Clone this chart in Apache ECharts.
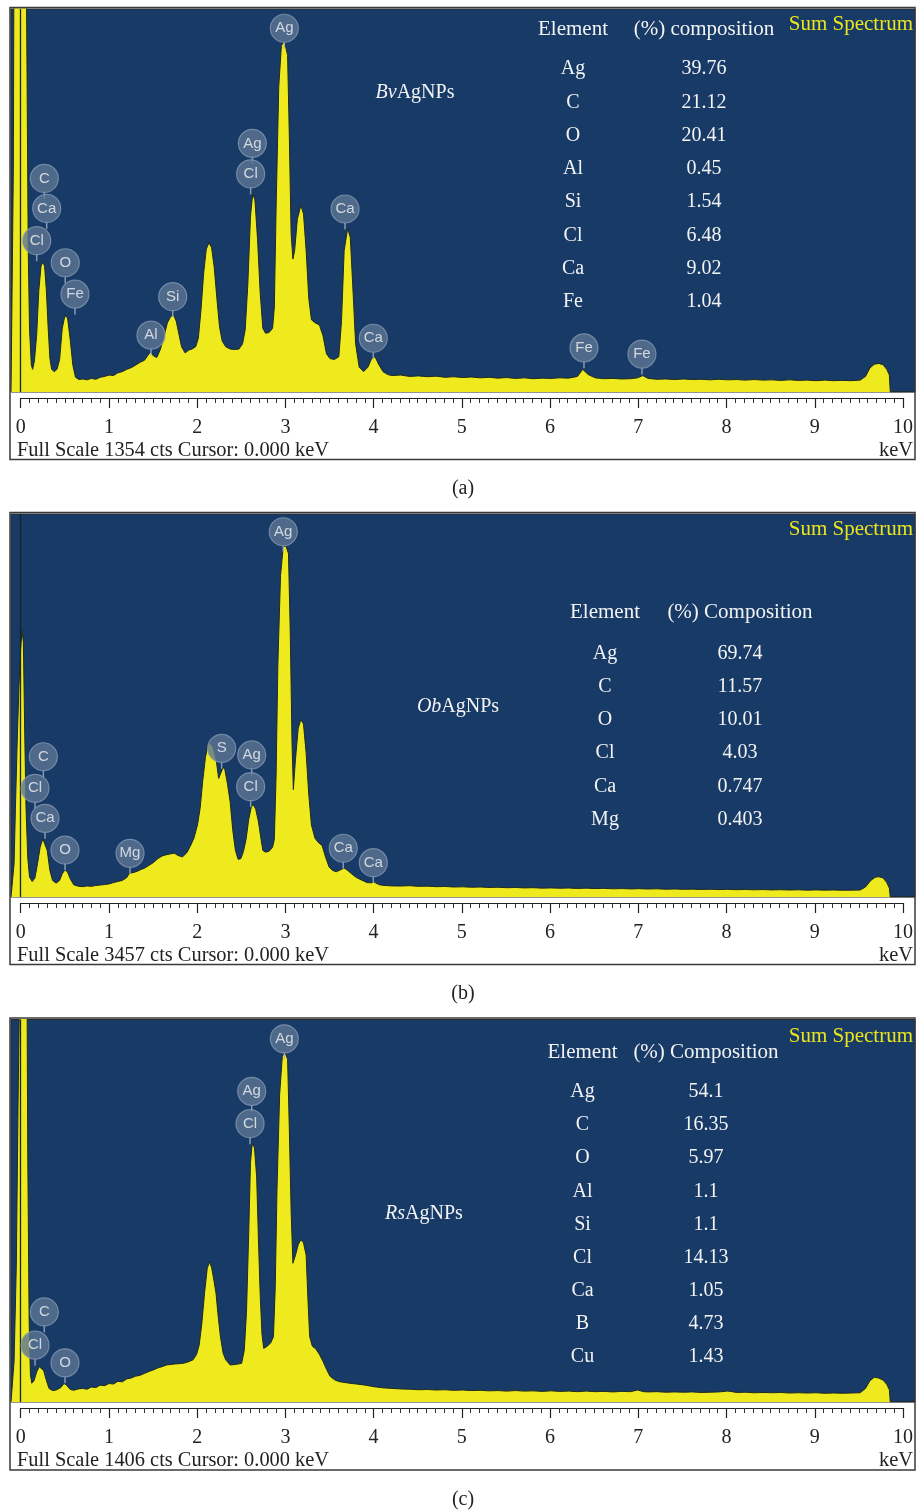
<!DOCTYPE html>
<html>
<head>
<meta charset="utf-8">
<script src="https://cdn.jsdelivr.net/npm/echarts@6/dist/echarts.min.js"></script>
<style>
html,body{margin:0;padding:0;background:#fff;}
#c{width:916px;height:1512px;}
</style>
</head>
<body>
<div id="c"></div>
<script>
// ---------- DATA ----------
const tickLabels = ['0','1','2','3','4','5','6','7','8','9','10'];
const fullScale = [1354, 3457, 1406];
const sampleNames = ['Bv', 'Ob', 'Rs'];
const captions = ['(a)', '(b)', '(c)'];
const headers = ['(%) composition', '(%) Composition', '(%) Composition'];

const elementsA = ['Ag','C','O','Al','Si','Cl','Ca','Fe'];
const compA = ['39.76','21.12','20.41','0.45','1.54','6.48','9.02','1.04'];
const elementsB = ['Ag','C','O','Cl','Ca','Mg'];
const compB = ['69.74','11.57','10.01','4.03','0.747','0.403'];
const elementsC = ['Ag','C','O','Al','Si','Cl','Ca','B','Cu'];
const compC = ['54.1','16.35','5.97','1.1','1.1','14.13','1.05','4.73','1.43'];

// peak labels: [element, keV, counts]
const peaksA = [['Ag',2.983,1286],['Ag',2.621,879],['Cl',2.602,771],['Ca',3.670,647],['Ca',3.990,190],
  ['C',0.267,755],['Ca',0.294,649],['Cl',0.181,535],['O',0.504,457],['Fe',0.614,346],
  ['Si',1.720,337],['Al',1.474,201],['Fe',6.374,156],['Fe',7.030,134]];
const peaksB = [['Ag',2.971,3297],['C',0.256,1266],['Cl',0.162,981],['Ca',0.275,710],['O',0.501,424],
  ['Mg',1.237,394],['S',2.274,1342],['Ag',2.614,1282],['Cl',2.602,996],['Ca',3.650,440],['Ca',3.990,310]];
const peaksC = [['Ag',2.983,1335],['Ag',2.614,1142],['Cl',2.595,1023],['C',0.267,331],['Cl',0.162,209],['O',0.501,144]];

// spectra: [keV, counts]
const specA = [[-0.11,0],[-0.09,0],[-0.083,800],[-0.077,1500],[0,1600],[0.063,1500],[0.072,1100],[0.085,500],[0.1,220],[0.12,95],[0.135,80],[0.155,110],[0.18,200],[0.205,360],[0.23,445],[0.25,460],[0.27,445],[0.29,360],[0.31,230],[0.33,120],[0.35,80],[0.38,72],[0.41,80],[0.44,115],[0.47,225],[0.50,270],[0.53,262],[0.56,185],[0.59,95],[0.62,52],[0.66,44],[0.70,46],[0.75,43],[0.80,48],[0.85,45],[0.90,52],[0.95,55],[1.0,60],[1.05,58],[1.1,68],[1.15,72],[1.2,80],[1.25,86],[1.3,95],[1.35,105],[1.4,112],[1.44,130],[1.47,142],[1.5,128],[1.54,122],[1.58,150],[1.62,195],[1.66,245],[1.70,268],[1.73,272],[1.76,250],[1.79,205],[1.82,160],[1.86,138],[1.9,148],[1.94,152],[1.98,160],[2.01,190],[2.04,290],[2.07,420],[2.1,505],[2.13,528],[2.16,510],[2.19,440],[2.22,330],[2.25,230],[2.28,180],[2.32,160],[2.37,152],[2.42,150],[2.47,152],[2.51,170],[2.54,220],[2.57,380],[2.6,620],[2.625,700],[2.65,680],[2.68,540],[2.71,350],[2.74,225],[2.77,208],[2.81,210],[2.85,225],[2.87,300],[2.89,650],[2.92,1080],[2.95,1225],[2.985,1240],[3.02,1190],[3.04,900],[3.06,560],[3.08,470],[3.1,500],[3.13,610],[3.17,660],[3.2,630],[3.23,500],[3.26,330],[3.29,255],[3.33,245],[3.38,237],[3.42,200],[3.46,135],[3.5,118],[3.55,115],[3.6,125],[3.63,250],[3.66,500],[3.7,579],[3.73,545],[3.76,360],[3.79,170],[3.83,88],[3.88,72],[3.93,88],[3.97,118],[4.01,125],[4.05,98],[4.1,72],[4.15,62],[4.2,58],[4.3,60],[4.4,55],[4.5,57],[4.6,54],[4.7,56],[4.8,52],[4.9,54],[5.0,51],[5.1,53],[5.2,50],[5.3,52],[5.4,49],[5.5,51],[5.6,48],[5.7,50],[5.8,47],[5.9,49],[6.0,48],[6.1,50],[6.2,49],[6.3,55],[6.36,80],[6.42,62],[6.5,50],[6.6,47],[6.7,48],[6.8,46],[6.9,47],[6.98,50],[7.04,58],[7.1,48],[7.2,45],[7.3,46],[7.4,44],[7.5,46],[7.6,44],[7.7,45],[7.8,43],[7.9,45],[8.0,43],[8.1,44],[8.2,42],[8.3,44],[8.4,42],[8.5,43],[8.6,41],[8.7,43],[8.8,41],[8.9,42],[9.0,40],[9.1,42],[9.2,40],[9.3,41],[9.4,40],[9.5,42],[9.56,55],[9.61,85],[9.66,98],[9.71,101],[9.76,96],[9.8,80],[9.83,60],[9.84,0],[10.12,0]];

const specB = [[-0.11,0],[-0.09,0],[-0.075,300],[-0.06,800],[-0.04,1400],[-0.02,1900],[0.0,2250],[0.015,2404],[0.03,2300],[0.045,1500],[0.06,800],[0.08,350],[0.1,180],[0.13,140],[0.16,170],[0.19,300],[0.22,450],[0.25,525],[0.27,530],[0.3,420],[0.33,240],[0.36,150],[0.4,125],[0.44,150],[0.47,210],[0.5,244],[0.53,225],[0.56,165],[0.6,110],[0.65,98],[0.7,93],[0.75,100],[0.8,96],[0.85,104],[0.9,108],[0.95,112],[1.0,118],[1.05,130],[1.1,140],[1.15,150],[1.2,175],[1.23,215],[1.27,220],[1.32,232],[1.36,248],[1.4,260],[1.45,285],[1.5,310],[1.55,345],[1.6,370],[1.65,382],[1.7,390],[1.74,394],[1.78,375],[1.83,362],[1.88,400],[1.92,460],[1.96,530],[2.0,650],[2.03,800],[2.06,1050],[2.09,1260],[2.12,1380],[2.15,1385],[2.18,1340],[2.21,1250],[2.24,1070],[2.26,1080],[2.29,1170],[2.31,1150],[2.34,1020],[2.37,860],[2.4,600],[2.43,420],[2.46,340],[2.49,345],[2.52,410],[2.55,520],[2.58,700],[2.61,815],[2.635,830],[2.66,790],[2.69,680],[2.72,520],[2.74,420],[2.77,405],[2.81,412],[2.85,450],[2.87,520],[2.89,1100],[2.91,2100],[2.94,2900],[2.97,3160],[3.0,3170],[3.03,3100],[3.05,2400],[3.07,1400],[3.085,970],[3.11,1250],[3.14,1520],[3.17,1604],[3.2,1560],[3.23,1300],[3.26,920],[3.29,650],[3.33,530],[3.37,490],[3.41,465],[3.45,360],[3.49,270],[3.53,240],[3.57,228],[3.62,245],[3.66,262],[3.7,240],[3.75,205],[3.8,175],[3.86,152],[3.92,130],[3.97,128],[4.0,135],[4.05,112],[4.1,105],[4.2,100],[4.3,99],[4.4,102],[4.5,96],[4.6,98],[4.7,93],[4.8,95],[4.9,90],[5.0,92],[5.1,88],[5.2,90],[5.3,86],[5.4,88],[5.5,84],[5.6,86],[5.7,82],[5.8,84],[5.9,80],[6.0,82],[6.1,79],[6.2,81],[6.3,77],[6.4,80],[6.5,76],[6.6,78],[6.7,74],[6.8,76],[6.9,73],[7.0,75],[7.1,72],[7.2,74],[7.3,70],[7.4,72],[7.5,69],[7.6,71],[7.7,68],[7.8,70],[7.9,67],[8.0,69],[8.1,66],[8.2,68],[8.3,65],[8.4,67],[8.5,64],[8.6,66],[8.7,63],[8.8,65],[8.9,62],[9.0,64],[9.1,62],[9.2,63],[9.3,61],[9.4,62],[9.5,63],[9.56,90],[9.62,150],[9.67,178],[9.71,183],[9.76,172],[9.8,130],[9.83,80],[9.84,0],[10.12,0]];

const specC = [[-0.11,0],[-0.09,0],[-0.075,150],[-0.05,500],[-0.03,1100],[-0.01,1600],[0.03,1600],[0.07,1600],[0.08,900],[0.095,300],[0.11,100],[0.125,69],[0.15,78],[0.18,110],[0.21,130],[0.23,132],[0.26,115],[0.29,80],[0.32,50],[0.36,42],[0.4,44],[0.45,52],[0.49,68],[0.52,62],[0.56,46],[0.6,43],[0.65,48],[0.7,50],[0.75,47],[0.8,55],[0.85,53],[0.9,62],[0.95,60],[1.0,68],[1.05,66],[1.1,76],[1.15,74],[1.2,85],[1.25,88],[1.3,95],[1.35,98],[1.4,105],[1.45,112],[1.5,118],[1.55,125],[1.6,130],[1.65,136],[1.7,138],[1.75,140],[1.8,141],[1.85,143],[1.9,148],[1.95,155],[1.99,175],[2.02,210],[2.05,290],[2.08,400],[2.11,490],[2.135,515],[2.16,495],[2.19,440],[2.21,400],[2.23,330],[2.26,240],[2.29,180],[2.32,155],[2.37,136],[2.43,138],[2.5,142],[2.53,190],[2.555,330],[2.58,620],[2.6,880],[2.62,950],[2.645,935],[2.67,827],[2.69,600],[2.71,395],[2.73,250],[2.75,197],[2.79,205],[2.83,218],[2.86,240],[2.88,420],[2.9,780],[2.93,1130],[2.96,1270],[2.99,1286],[3.02,1260],[3.04,1000],[3.06,700],[3.08,510],[3.11,540],[3.14,578],[3.17,597],[3.2,585],[3.23,540],[3.25,380],[3.27,240],[3.3,205],[3.34,195],[3.38,175],[3.42,150],[3.46,120],[3.5,95],[3.55,82],[3.6,75],[3.66,72],[3.72,69],[3.8,66],[3.9,62],[4.0,56],[4.1,52],[4.2,50],[4.3,48],[4.4,47],[4.5,45],[4.6,46],[4.7,44],[4.8,45],[4.9,43],[5.0,44],[5.1,42],[5.2,43],[5.3,41],[5.4,42],[5.5,40],[5.6,42],[5.7,40],[5.8,41],[5.9,39],[6.0,41],[6.1,39],[6.2,40],[6.3,38],[6.4,40],[6.5,38],[6.6,39],[6.7,37],[6.8,39],[6.9,38],[6.98,44],[7.05,38],[7.1,37],[7.2,38],[7.3,36],[7.4,37],[7.5,36],[7.6,37],[7.7,35],[7.8,36],[7.9,37],[8.0,40],[8.05,38],[8.1,35],[8.2,36],[8.3,34],[8.4,35],[8.5,34],[8.6,35],[8.7,33],[8.8,34],[8.9,33],[9.0,34],[9.1,32],[9.2,33],[9.3,32],[9.4,33],[9.5,34],[9.56,50],[9.61,78],[9.66,91],[9.71,88],[9.76,80],[9.8,65],[9.83,45],[9.84,0],[10.12,0]];

// ---------- LAYOUT / STYLE ----------
const SERIF = '"Liberation Serif","Times New Roman",serif';
const SANS = '"Liberation Sans",Arial,sans-serif';
const BLUE = '#173a67';
const YELLOW = '#efea1e';
const TXT_DY = 2;
const panels = [
  {top: 7.5, base: 392, spec: specA, peaks: peaksA, els: elementsA, comp: compA,
   headY: 27, elX: 573, valX: 704, row0: 67, rowStep: 33.3, nameX: 415, nameY: 91, sumY: 22},
  {top: 512.5, base: 897, spec: specB, peaks: peaksB, els: elementsB, comp: compB,
   headY: 610, elX: 605, valX: 740, row0: 651.5, rowStep: 33.2, nameX: 458, nameY: 705, sumY: 527},
  {top: 1018, base: 1402, spec: specC, peaks: peaksC, els: elementsC, comp: compC,
   headY: 1050.5, elX: 582.5, valX: 706, row0: 1090, rowStep: 33.1, nameX: 424, nameY: 1211.5, sumY: 1034}
];

const grid = [], xAxis = [], yAxis = [], series = [], graphic = [];

function text(x, y, t, opt) {
  opt = opt || {};
  const st = {
    text: t, fontFamily: opt.family || SERIF, fontSize: opt.size || 20,
    fontStyle: opt.style || 'normal',
    fill: opt.color || '#222',
    textAlign: opt.align || 'center', align: opt.align || 'center',
    textVerticalAlign: 'middle', verticalAlign: 'middle'
  };
  if (opt.rich) st.rich = opt.rich;
  return {type: 'text', x: x, y: y + TXT_DY, z: 200, silent: true, style: st};
}

panels.forEach((p, i) => {
  const gSpec = 2 * i, gRul = 2 * i + 1;
  grid.push({left: 11, width: 904, top: p.top + 1.5, height: p.base - p.top - 1.5,
    show: true, backgroundColor: BLUE, borderColor: '#2a2a2a', borderWidth: 1});
  grid.push({left: 20.7, width: 883.7, top: p.base + 6, height: 40, show: false});
  xAxis.push({gridIndex: gSpec, type: 'value', min: -0.11, max: 10.12, show: false});
  xAxis.push({gridIndex: gRul, type: 'value', min: 0, max: 10, interval: 1, position: 'top',
    axisLine: {show: true, onZero: false, lineStyle: {color: '#222', width: 1.2}},
    axisTick: {show: true, inside: true, length: 10, lineStyle: {color: '#222', width: 1.2}},
    minorTick: {show: true, splitNumber: 10, length: 5, lineStyle: {color: '#333', width: 1}},
    splitLine: {show: false},
    axisLabel: {show: true, inside: true, margin: 20, fontFamily: SERIF, fontSize: 20, color: '#222',
      formatter: v => tickLabels[Math.round(v)]}});
  yAxis.push({gridIndex: gSpec, type: 'value', min: 0, max: fullScale[i], show: false});
  yAxis.push({gridIndex: gRul, type: 'value', min: 0, max: 1, show: false});

  series.push({type: 'line', xAxisIndex: gSpec, yAxisIndex: gSpec, data: p.spec,
    showSymbol: false, symbol: 'none', clip: true, z: 2,
    lineStyle: {color: '#1e2b22', width: 1},
    areaStyle: {color: YELLOW, opacity: 1},
    markLine: {silent: true, symbol: ['none', 'none'], label: {show: false},
      lineStyle: {color: '#17251c', width: 1.3, type: 'solid'}, data: [{xAxis: 0}]}});
  const pdata = p.peaks.map(q => ({name: q[0], value: [q[1], q[2]]}));
  series.push({type: 'scatter', xAxisIndex: gSpec, yAxisIndex: gSpec, data: pdata, silent: true,
    symbol: 'rect', symbolSize: [1.5, 7], symbolOffset: [0, 17], z: 4,
    itemStyle: {color: '#a3b3c6'}});
  series.push({type: 'scatter', xAxisIndex: gSpec, yAxisIndex: gSpec, data: pdata, silent: true,
    symbol: 'circle', symbolSize: 28, z: 5,
    itemStyle: {color: '#5c7594', borderColor: '#8397b0', borderWidth: 1.2},
    label: {show: true, position: 'inside', formatter: '{b}', color: '#f2f2f2',
      fontFamily: SANS, fontSize: 15}});

  // frame
  graphic.push({type: 'rect', z: 150, silent: true,
    shape: {x: 10, y: p.top, width: 905, height: 452},
    style: {fill: 'none', stroke: '#3a3a3a', lineWidth: 1.5}});
  // texts
  graphic.push(text(17, p.base + 57, 'Full Scale ' + fullScale[i] + ' cts Cursor: 0.000 keV', {align: 'left', size: 20.4}));
  graphic.push(text(913, p.base + 57, 'keV', {align: 'right', size: 20.4}));
  graphic.push(text(463, p.top + 479.5, captions[i]));
  graphic.push(text(913, p.sumY, 'Sum Spectrum', {align: 'right', color: '#ece51c', size: 21}));
  graphic.push(text(p.elX, p.headY, 'Element', {color: '#f3f3f3', size: 21}));
  graphic.push(text(p.valX, p.headY, headers[i], {color: '#f3f3f3', size: 21}));
  p.els.forEach((e, k) => {
    graphic.push(text(p.elX, p.row0 + k * p.rowStep, e, {color: '#f3f3f3'}));
    graphic.push(text(p.valX, p.row0 + k * p.rowStep, p.comp[k], {color: '#f3f3f3'}));
  });
  graphic.push(text(p.nameX, p.nameY, '{i|' + sampleNames[i] + '}AgNPs',
    {color: '#f3f3f3', rich: {i: {fontStyle: 'italic', fontFamily: SERIF, fontSize: 20, fill: '#f3f3f3', color: '#f3f3f3'}}}));
});

const chart = echarts.init(document.getElementById('c'), null, {renderer: 'canvas'});
chart.setOption({
  animation: false,
  backgroundColor: '#ffffff',
  grid, xAxis, yAxis, series, graphic
});
</script>
</body>
</html>
